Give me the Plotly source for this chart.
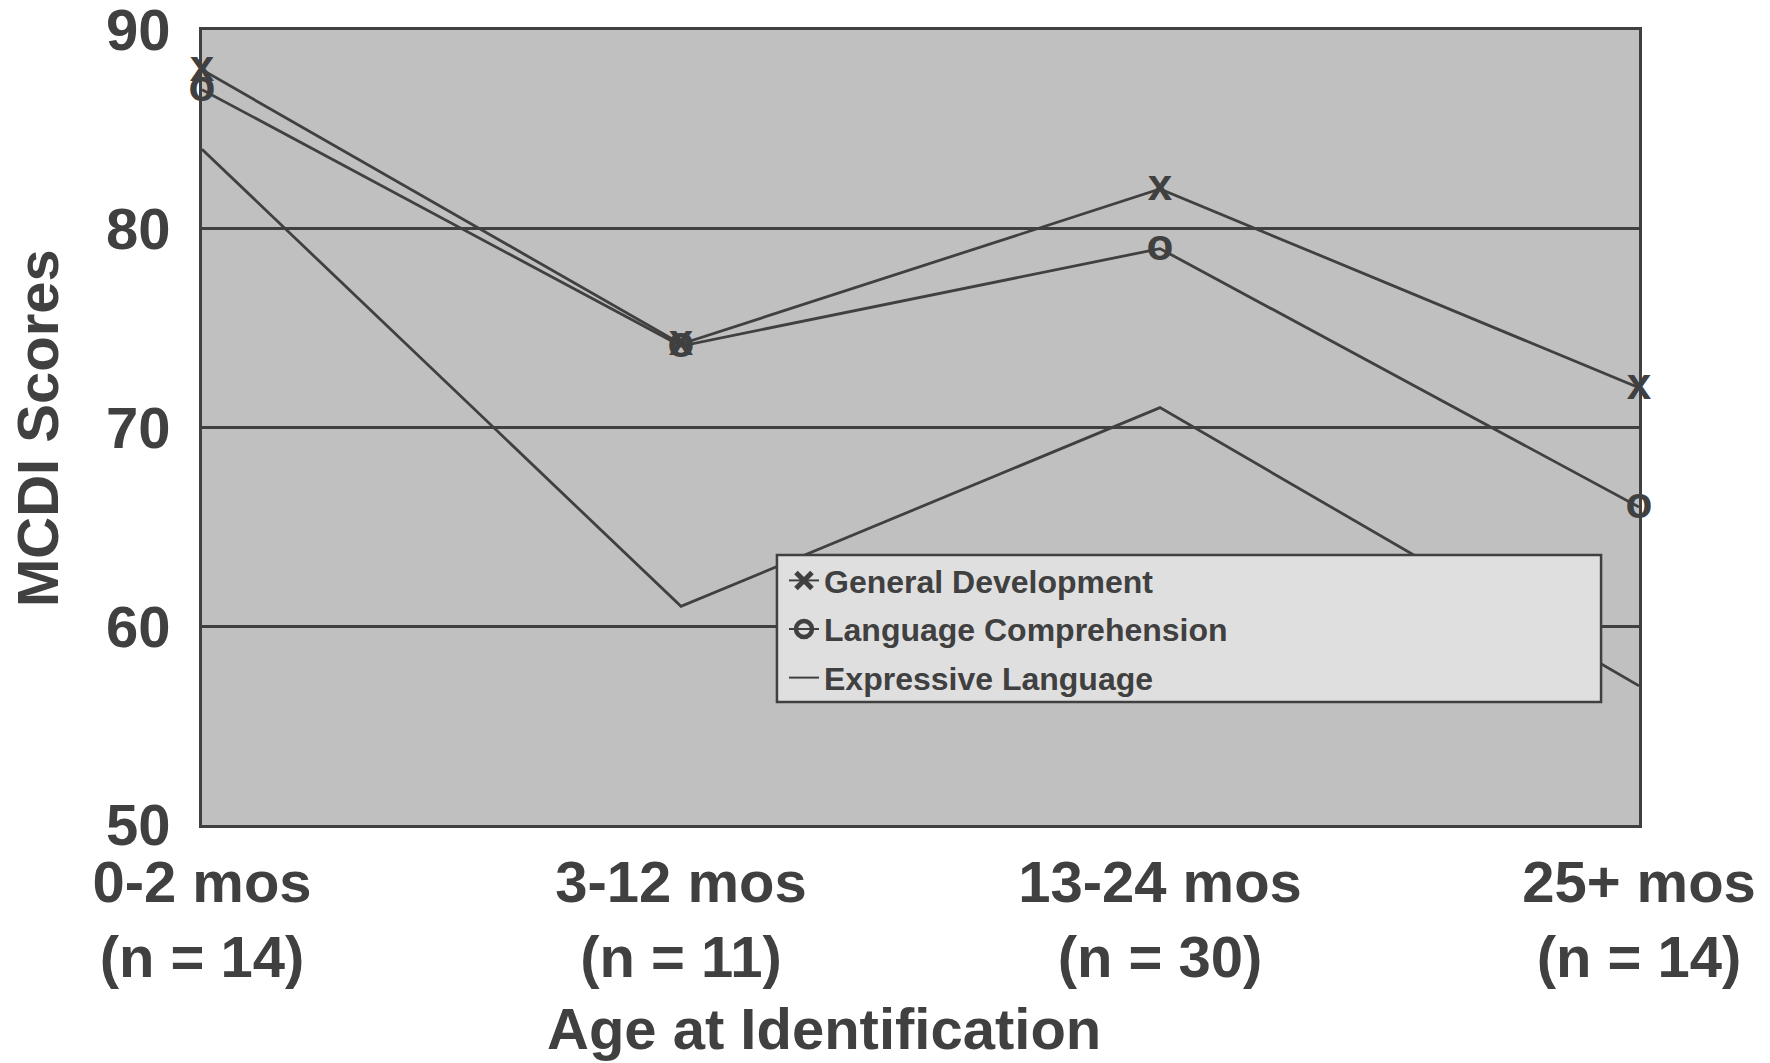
import plotly.graph_objects as go

# Age groups (x categories) and the MCDI scores for each measure
age_groups = ["0-2 mos<br>(n = 14)", "3-12 mos<br>(n = 11)",
              "13-24 mos<br>(n = 30)", "25+ mos<br>(n = 14)"]
x_pos = [0, 1, 2, 3]
general_development = [88, 74.2, 82, 72]
language_comprehension = [87, 74.1, 79, 66]
expressive_language = [84, 61, 71, 57]

y_ticks = [50, 60, 70, 80, 90]

INK = "#404040"
FONT = "Liberation Sans, Arial, sans-serif"
LINE_W = 2.8

fig = go.Figure()

# Data lines; the first two carry a text glyph at each point
fig.add_trace(go.Scatter(
    x=x_pos, y=general_development, mode="lines+text",
    text=["x"] * len(x_pos), textposition="middle center",
    textfont=dict(family=FONT, size=44, color=INK, weight="bold"),
    line=dict(color=INK, width=LINE_W), showlegend=False, cliponaxis=False))
fig.add_trace(go.Scatter(
    x=x_pos, y=language_comprehension, mode="lines+text",
    text=["o"] * len(x_pos), textposition="middle center",
    textfont=dict(family=FONT, size=44, color=INK, weight="bold"),
    line=dict(color=INK, width=LINE_W), showlegend=False, cliponaxis=False))
fig.add_trace(go.Scatter(
    x=x_pos, y=expressive_language, mode="lines",
    line=dict(color=INK, width=LINE_W), showlegend=False, cliponaxis=False))

# Legend entries
fig.add_trace(go.Scatter(
    x=[None], y=[None], mode="lines+markers", name="General Development",
    legendgroup="gd",
    line=dict(color=INK, width=2),
    marker=dict(symbol="x-thin", size=19, line=dict(color=INK, width=5))))
fig.add_trace(go.Scatter(
    x=[None], y=[None], mode="lines+markers", name="Language Comprehension",
    legendgroup="lc",
    line=dict(color=INK, width=2),
    marker=dict(symbol="circle-open", size=17, color=INK,
                line=dict(color=INK, width=4.5))))
fig.add_trace(go.Scatter(
    x=[None], y=[None], mode="lines", name="Expressive Language",
    legendgroup="el",
    line=dict(color=INK, width=2)))

# Legend box
fig.add_shape(type="rect", xref="paper", yref="paper",
              x0=0.4001, x1=0.9736, y0=0.1547, y1=0.3396,
              fillcolor="#DFDFDF", line=dict(color=INK, width=2.5),
              layer="above")

fig.update_layout(
    width=1770, height=1063,
    margin=dict(l=202, r=131, t=30, b=238),
    paper_bgcolor="white", plot_bgcolor="#C0C0C0",
    font=dict(family=FONT, size=58, color=INK, weight="bold"),
    xaxis=dict(
        range=[0, 3], tickvals=x_pos, ticktext=age_groups,
        showgrid=False, zeroline=False, automargin=False,
        showline=True, mirror=True, linecolor=INK, linewidth=3,
        ticks="outside", ticklen=4, tickcolor="rgba(0,0,0,0)",
        tickfont=dict(size=58)),
    yaxis=dict(
        range=[50, 90], tickvals=y_ticks, automargin=False,
        showgrid=True, gridcolor=INK, gridwidth=2.5, zeroline=False,
        showline=True, mirror=True, linecolor=INK, linewidth=3,
        ticks="outside", ticklen=17, tickcolor="rgba(0,0,0,0)",
        ticklabeloverflow="allow",
        tickfont=dict(size=58)),
    legend=dict(
        x=0.405, y=0.342, xanchor="left", yanchor="top",
        bgcolor="rgba(0,0,0,0)", borderwidth=0,
        traceorder="grouped", tracegroupgap=4,
        font=dict(size=32, color=INK, family=FONT, weight="bold"),
        itemwidth=30),
    annotations=[
        dict(text="Age at Identification", xref="paper", yref="paper",
             x=0.4328, y=-0.2566, xanchor="center", yanchor="middle",
             showarrow=False, font=dict(size=58)),
        dict(text="MCDI Scores", xref="paper", yref="paper",
             x=-0.1145, y=0.5, xanchor="center", yanchor="middle",
             textangle=-90, showarrow=False, font=dict(size=58)),
    ],
)

fig.write_html("out.html")
